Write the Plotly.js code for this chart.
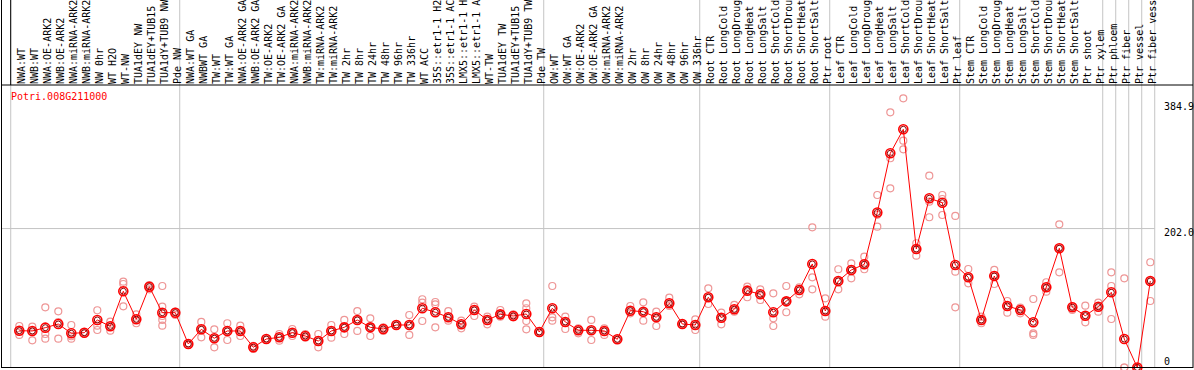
<!DOCTYPE html>
<html>
<head>
<meta charset="utf-8">
<script src="https://cdn.plot.ly/plotly-3.0.1.min.js"></script>
<style>
  html, body { margin: 0; padding: 0; background: #fff; }
  #chart { width: 1194px; height: 370px; }
</style>
</head>
<body>
<div id="chart"></div>
<script>
const geneTitle = 'Potri.008G211000';

const labels = [
  'NWA:WT','NWB:WT','NWA:OE-ARK2','NWB:OE-ARK2','NWA:miRNA-ARK2','NWB:miRNA-ARK2','NW 0hr','WT H2O','WT-NW','TUA1dEY NW','TUA1dEY+TUB15 NW','TUA1dY+TUB9 NW','Pde NW',
  'NWA:WT GA','NWBWT GA','TW:WT','TW:WT GA','NWA:OE-ARK2 GA','NWB:OE-ARK2 GA','TW:OE-ARK2','TW:OE-ARK2 GA','NWA:miRNA-ARK2 GA','NWB:miRNA-ARK2 GA','TW:miRNA-ARK2','TW:miRNA-ARK2 GA',
  'TW 2hr','TW 8hr','TW 24hr','TW 48hr','TW 96hr','TW 336hr','WT ACC','35S::etr1-1 H2O','35S::etr1-1 ACC','LMX5::etr1-1 H2O','LMX5::etr1-1 ACC','WT-TW','TUA1dEY TW','TUA1dEY+TUB15 TW','TUA1dY+TUB9 TW','Pde TW',
  'OW:WT','OW:WT GA','OW:OE-ARK2','OW:OE-ARK2 GA','OW:miRNA-ARK2','OW:miRNA-ARK2 GA','OW 2hr','OW 8hr','OW 24hr','OW 48hr','OW 96hr','OW 336hr',
  'Root CTR','Root LongCold','Root LongDrought','Root LongHeat','Root LongSalt','Root ShortCold','Root ShortDrought','Root ShortHeat','Root ShortSalt','Ptr root',
  'Leaf CTR','Leaf LongCold','Leaf LongDrought','Leaf LongHeat','Leaf LongSalt','Leaf ShortCold','Leaf ShortDrought','Leaf ShortHeat','Leaf ShortSalt','Ptr leaf',
  'Stem CTR','Stem LongCold','Stem LongDrought','Stem LongHeat','Stem LongSalt','Stem ShortCold','Stem ShortDrought','Stem ShortHeat','Stem ShortSalt','Ptr shoot','Ptr xylem',
  'Ptr phloem','Ptr fiber','Ptr vessel','Ptr fiber vessel'
];

const meanVals = [
  53.5,53.1,57.9,63.2,49.7,50.6,69.1,59.9,110.8,70.1,117.5,79.7,79.7,
  34.2,55.5,42.5,53.1,53.1,29.4,41.4,43.9,50.6,45.8,38.5,53.1,
  58.4,69.1,58.4,56.0,61.8,61.8,86.1,80.3,73.0,62.8,83.6,69.1,77.3,74.9,77.8,51.6,
  86.1,66.2,54.1,54.1,53.1,41.0,82.6,81.1,73.0,93.3,63.2,61.8,
  102.1,72.4,84.6,111.7,106.4,80.3,96.2,112.7,150.5,82.1,
  125.8,141.8,150.0,225.4,311.4,346.3,172.3,246.0,239.6,149.0,
  131.1,69.1,133.0,89.4,83.6,65.7,116.6,173.3,87.5,75.3,88.4,
  109.3,41.4,0,125.8
];

const rep1 = [
  60.3,59.3,87.5,81.7,61.8,51.6,83.2,66.6,124.7,77.3,119.9,118.5,81.1,
  35.2,66.2,55.5,64.3,60.8,31.3,41.4,48.7,56.0,48.7,48.7,61.8,
  69.1,82.1,71.5,58.4,63.0,76.3,99.2,95.2,82.1,68.0,88.4,73.9,83.6,77.3,93.3,52.6,
  118.5,73.9,57.0,69.1,57.0,41.0,89.4,94.8,81.1,101.5,64.3,70.1,
  115.1,79.7,90.9,117.5,113.7,107.9,118.5,116.6,203.8,100.6,
  142.8,151.5,161.1,250.8,371.0,391.4,180.6,278.9,250.8,220.3,
  143.2,73.9,141.8,96.7,86.9,99.6,123.9,208.2,89.4,89.9,94.2,
  138.4,129.7,0,153.0
];
const rep2 = [
  53.1,53.1,48.7,66.0,45.4,50.6,60.8,60.0,121.4,70.0,117.5,88.4,79.7,
  34.2,55.5,42.5,53.1,53.1,29.4,41.4,43.9,50.6,45.8,38.5,53.1,
  58.4,69.1,58.4,56.0,61.8,61.8,94.2,91.9,73.0,62.8,83.6,69.1,77.3,74.9,86.1,51.6,
  73.0,66.2,54.1,54.1,53.1,41.0,82.6,81.1,73.0,93.3,63.2,61.8,
  102.1,72.4,84.6,111.7,106.4,71.5,96.2,112.7,131.1,82.1,
  125.8,141.8,150.0,222.0,304.2,329.7,172.3,241.1,245.0,139.3,
  131.1,69.1,133.0,89.4,83.6,49.7,116.6,173.3,87.5,75.3,88.4,
  118.5,0,0,125.8
];
const rep3 = [
  47.3,39.5,41.9,41.9,41.9,49.4,54.5,53.5,89.0,64.3,113.7,74.9,76.3,
  32.7,43.9,29.4,40.0,45.8,26.9,40.0,39.0,45.8,43.3,29.4,43.3,
  48.7,53.1,45.8,53.1,60.5,47.3,67.6,58.4,68.0,57.0,74.9,62.8,73.9,73.0,67.6,50.9,
  68.0,56.0,49.7,40.0,47.3,40.0,78.8,68.0,60.3,89.4,62.2,54.5,
  92.3,62.8,81.1,102.1,98.1,60.3,80.3,106.4,113.7,73.9,
  113.7,129.7,142.8,204.7,260.5,317.2,162.5,218.4,221.7,87.5,
  122.4,64.3,121.4,79.7,78.8,47.3,110.2,138.4,83.6,65.7,81.1,
  70.5,0,0,96.7
];
// extra replicates for the few samples with more than three
const extraIdx = [11, 11, 39];
const extraVals = [69.1, 60.8, 55.5];

// first sample index of each group (last entry = end)
const groupStarts = [0, 13, 41, 53, 63, 73, 84, 85, 86, 87, 88];

const yLabelVals = [384.9, 202.0, 0];
const yLabelText = ['384.9', '202.0', '0'];
const gridVal = 202.0;

// ---- geometry ----
const W = 1194, H = 370, T = 85, B = 2;
const PX0 = 19.3, STEP = 13;              // pixel of sample 0, pixel per sample
const xr = [(0 - PX0) / STEP, (W - PX0) / STEP];
const yr = [-0.73, 410.7];
const px = p => p / W;
const py = p => (H - B - p) / (H - T - B);
const FONT = 'DejaVu Sans Mono, monospace';

const idx = labels.map((_, i) => i);

const repX = idx.concat(idx, idx, extraIdx);
const repY = rep1.concat(rep2, rep3, extraVals);

const traces = [
  { x: repX, y: repY, type: 'scatter', mode: 'markers', cliponaxis: false,
    marker: { symbol: 'circle-open', size: 7, color: 'rgb(238,150,150)', line: { width: 1.2 } } },
  { x: idx, y: meanVals, type: 'scatter', mode: 'lines', cliponaxis: false,
    line: { color: '#ff0000', width: 1 } },
  { x: idx, y: meanVals, type: 'scatter', mode: 'markers', cliponaxis: false,
    marker: { symbol: 'circle-open', size: 9, color: '#ff0000', line: { width: 1.6 } } },
  { x: idx, y: meanVals, type: 'scatter', mode: 'markers', cliponaxis: false,
    marker: { symbol: 'circle-open', size: 6, color: '#8a0000', line: { width: 1 } } },
  { x: [0], y: [0], xaxis: 'x2', type: 'scatter', mode: 'markers', opacity: 0, hoverinfo: 'skip' }
];

const shapes = [];
const black = { color: '#000', width: 1 };
const gray = { color: '#c4c4c4', width: 1 };
// group separators (full height)
groupStarts.forEach(g => {
  shapes.push({ type: 'line', xref: 'x', yref: 'paper', x0: g - 0.66, x1: g - 0.66, y0: py(H - B), y1: py(0), line: gray, layer: 'below' });
});
// horizontal grid line
shapes.push({ type: 'line', xref: 'paper', yref: 'y', x0: px(1.5), x1: px(10.7 + STEP * 88), y0: gridVal, y1: gridVal, line: gray, layer: 'below' });
// frame
shapes.push({ type: 'line', xref: 'paper', yref: 'paper', x0: px(1.5), x1: px(1.5), y0: py(368), y1: py(0), line: black });
shapes.push({ type: 'line', xref: 'paper', yref: 'paper', x0: px(1193), x1: px(1193), y0: py(368), y1: py(0), line: black });
shapes.push({ type: 'line', xref: 'paper', yref: 'paper', x0: px(1.5), x1: px(1193), y0: py(85), y1: py(85), line: black });
shapes.push({ type: 'line', xref: 'paper', yref: 'paper', x0: px(1.5), x1: px(1193), y0: py(367.5), y1: py(367.5), line: black });
shapes.push({ type: 'line', xref: 'paper', yref: 'paper', x0: px(10.7), x1: px(10.7), y0: py(85), y1: py(0), line: black });

const yShift = [-4.2, -4, 6];
const annotations = yLabelVals.map((v, k) => ({
  xref: 'paper', yref: 'y', x: px(1162), y: v, xanchor: 'left', yanchor: 'middle', yshift: yShift[k],
  text: yLabelText[k], showarrow: false, font: { family: FONT, size: 10, color: '#000' }
}));
annotations.push({
  xref: 'paper', yref: 'paper', x: px(8.5), y: py(97), xanchor: 'left', yanchor: 'middle',
  text: geneTitle, showarrow: false, font: { family: FONT, size: 10, color: '#ff0000' }
});

const layout = {
  width: W, height: H,
  margin: { l: 0, r: 0, t: T, b: B, pad: 0 },
  paper_bgcolor: '#fff', plot_bgcolor: 'rgba(0,0,0,0)',
  showlegend: false, hovermode: false,
  xaxis: { range: xr, showgrid: false, zeroline: false, showline: false, showticklabels: false, ticks: '' },
  xaxis2: { range: xr, overlaying: 'x', side: 'top', anchor: 'y', tickmode: 'array',
            tickvals: idx.map(i => i + 0.15), ticktext: labels, tickangle: -90,
            tickfont: { family: FONT, size: 10, color: '#000' },
            showgrid: false, zeroline: false, showline: false, ticks: '', automargin: false },
  yaxis: { range: yr, showgrid: false, zeroline: false, showline: false, showticklabels: false, ticks: '' },
  shapes: shapes,
  annotations: annotations
};

Plotly.newPlot('chart', traces, layout, { staticPlot: true, displayModeBar: false });
</script>
</body>
</html>
